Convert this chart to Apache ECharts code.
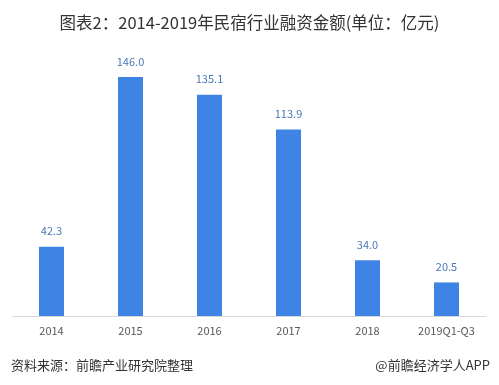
<!DOCTYPE html>
<html><head><meta charset="utf-8">
<script src="https://cdn.jsdelivr.net/npm/echarts@6/dist/echarts.min.js"></script>
<style>html,body{margin:0;padding:0;background:#fff}#c{width:499px;height:385px}</style>
</head><body><div id="c"></div>
<script>
const categories = ['2014','2015','2016','2017','2018','2019Q1-Q3'];
const values = [42.3, 146.0, 135.1, 113.9, 34.0, 20.5];
const titleText = '图表2：2014-2019年民宿行业融资金额(单位：亿元)';
const sourceText = '资料来源：前瞻产业研究院整理';
const brandText = '@前瞻经济学人APP';

const chart = echarts.init(document.getElementById('c'));
chart.setOption({
  animation: false,
  backgroundColor: '#fff',
  textStyle: {fontFamily: '"Noto Sans CJK SC", sans-serif'},
  title: [
    {text: titleText, left: 'center', top: 9, textStyle: {fontSize: 16.5, fontWeight: 'normal', color: '#333'}},
    {text: sourceText, left: 6, top: 354, textStyle: {fontSize: 13, fontWeight: 'normal', color: '#333'}},
    {text: brandText, right: 4, top: 354, textStyle: {fontSize: 13, fontWeight: 'normal', color: '#333'}}
  ],
  grid: {left: 12, right: 13, top: 54, bottom: 69},
  xAxis: {
    type: 'category', data: categories,
    axisLine: {lineStyle: {color: '#d9d9d9'}},
    axisTick: {show: false},
    axisLabel: {color: '#595959', fontSize: 11, margin: 9}
  },
  yAxis: {type: 'value', min: 0, max: 160, show: false, splitLine: {show: false}},
  series: [{
    type: 'bar', data: values, barWidth: 25,
    itemStyle: {color: '#3f83e4'},
    label: {show: true, position: 'top', distance: 10, color: '#4a78b8', fontSize: 11,
      formatter: p => p.value.toFixed(1)}
  }]
});
</script></body></html>
